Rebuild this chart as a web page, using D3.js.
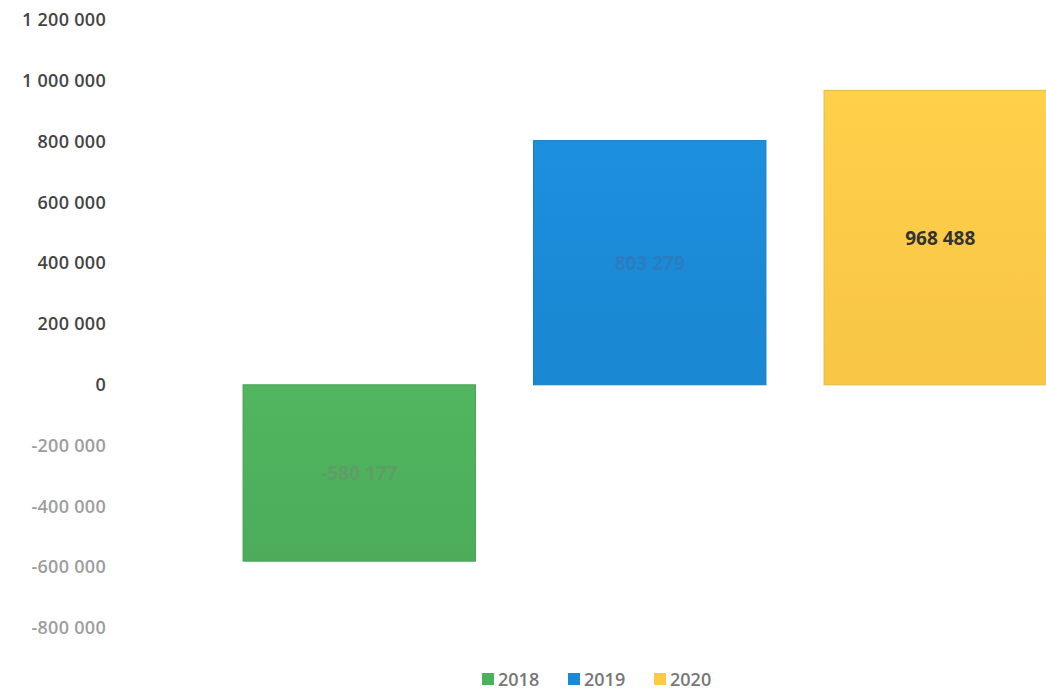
<!DOCTYPE html>
<html>
<head>
<meta charset="utf-8">
<script src="https://cdn.jsdelivr.net/npm/d3@7"></script>
<style>
	body { margin: 0; background: #fff; }
	svg { display: block; font-family: 'Open Sans', sans-serif; }
</style>
</head>
<body>
<svg id="chart-svg" width="1046" height="692"></svg>
<script>
// values
const years = ['2018', '2019', '2020'];
const values = [-580177, 803279, 968488];
const yTicks = [1200000, 1000000, 800000, 600000, 400000, 200000, 0, -200000, -400000, -600000, -800000];
const barColors = ['#4eb05c', '#1b8ad6', '#fdc947'];
const labelColors = ['#5f9d67', '#2c7cc0', '#333333'];

const svg = d3.select('#chart-svg');

const locale = d3.formatLocale({ decimal: ',', thousands: ' ', grouping: [3], currency: ['', ''], minus: '-' });
const fmt = locale.format(',d');

const y = d3.scaleLinear().domain([-800000, 1200000]).range([628, 20]);
const x = d3.scaleBand().domain(years).range([214, 1085.5]).paddingInner(0.2).paddingOuter(0.1);
const color = d3.scaleOrdinal(years, barColors);

// gradients to mimic the soft shading of the bars
const defs = svg.append('defs');
years.forEach((yr, i) => {
	const g = defs.append('linearGradient').attr('id', 'grad' + yr).attr('x1', 0).attr('x2', 0).attr('y1', 0).attr('y2', 1);
	g.append('stop').attr('offset', '0%').attr('stop-color', d3.color(barColors[i]).brighter(0.1));
	g.append('stop').attr('offset', '100%').attr('stop-color', d3.color(barColors[i]).darker(0.06));
});

// y axis labels only, no line
const yAxis = d3.axisLeft(y).tickValues(yTicks).tickSize(0).tickPadding(0).tickFormat(fmt);
const axisG = svg.append('g').attr('transform', 'translate(106,0)').call(yAxis);
axisG.select('.domain').remove();
axisG.selectAll('text')
	.attr('font-family', '"Open Sans", sans-serif')
	.attr('font-size', 18)
	.attr('font-weight', 600)
	.attr('letter-spacing', 0.3)
	.attr('fill', (d) => (d < 0 ? '#9d9d9d' : '#444'));

// bars
const data = years.map((yr, i) => ({ year: yr, value: values[i] }));
const barG = svg.append('g');
barG.selectAll('rect')
	.data(data)
	.enter()
	.append('rect')
	.attr('x', (d) => x(d.year))
	.attr('y', (d) => y(Math.max(0, d.value)))
	.attr('width', x.bandwidth())
	.attr('height', (d) => Math.abs(y(d.value) - y(0)))
	.attr('fill', (d) => 'url(#grad' + d.year + ')')
	.attr('stroke', (d) => d3.color(color(d.year)).darker(0.25))
	.attr('stroke-width', 1);

// value labels inside bars
barG.selectAll('text')
	.data(data)
	.enter()
	.append('text')
	.attr('x', (d) => x(d.year) + x.bandwidth() / 2)
	.attr('y', (d) => (y(d.value) + y(0)) / 2 + 7)
	.attr('text-anchor', 'middle')
	.attr('font-size', 19)
	.attr('font-weight', 'bold')
	.attr('fill', (d, i) => labelColors[i])
	.text((d) => fmt(d.value));

// legend
const legendX = [482, 568, 654];
const legendG = svg.append('g')
	.selectAll('g')
	.data(years)
	.enter()
	.append('g')
	.attr('transform', (d, i) => 'translate(' + legendX[i] + ',672)');
legendG.append('rect').attr('x', 0).attr('y', 1).attr('width', 12).attr('height', 12).attr('fill', (d) => color(d));
legendG.append('text').attr('x', 16).attr('y', 14).attr('font-size', 18).attr('font-weight', 600).attr('fill', '#777').text((d) => d);
</script>
</body>
</html>
